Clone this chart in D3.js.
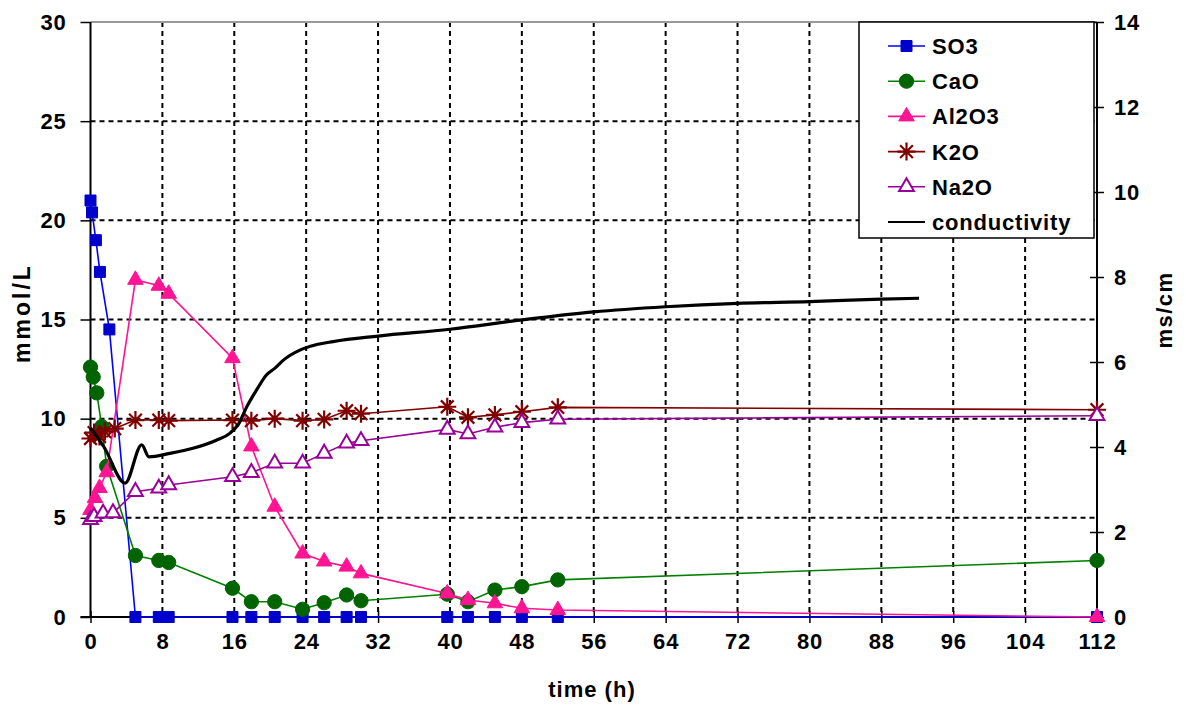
<!DOCTYPE html>
<html><head><meta charset="utf-8">
<script src="https://cdn.jsdelivr.net/npm/d3@7"></script>
<style>
html,body{margin:0;padding:0;background:#fff;}
svg{display:block;font-family:"Liberation Sans",Arial,sans-serif;}
</style></head>
<body><svg id="c" width="1186" height="709"></svg>
<script>
// ---- data ----
const xTicks = [0,8,16,24,32,40,48,56,64,72,80,88,96,104,112];
const yLeftTicks = [0,5,10,15,20,25,30];
const yRightTicks = [0,2,4,6,8,10,12,14];
const seriesNames = ["SO3","CaO","Al2O3","K2O","Na2O","conductivity"];

const tLate = [5,7.6,8.7,15.8,17.9,20.5,23.6,26,28.5,30.1,39.7,42,45,48,52,112];

const so3T = [0,0.17,0.6,1.05,2.1].concat(tLate);
const so3V = [21.0,20.4,19.0,17.4,14.5, 0,0,0,0,0,0,0,0,0,0,0,0,0,0,0,0];

const caoT = [0,0.3,0.7,1.25,1.8].concat(tLate);
const caoV = [12.6,12.1,11.3,9.6,7.6, 3.1,2.85,2.75,1.45,0.77,0.77,0.39,0.72,1.11,0.82,1.15,0.77,1.36,1.53,1.87,2.85];

const al2o3T = [0,0.5,1,1.8].concat(tLate);
const al2o3V = [5.4,6.0,6.5,7.3, 17.0,16.7,16.3,13.05,8.6,5.56,3.2,2.8,2.54,2.2,1.19,0.86,0.69,0.44,0.35,0.0];

const k2oT = [0,0.4,1,1.6,2.7].concat(tLate);
const k2oV = [9.0,9.3,9.1,9.35,9.5, 9.93,9.93,9.9,9.93,9.9,10.0,9.9,9.96,10.4,10.25,10.6,10.07,10.19,10.35,10.57,10.45];

const na2oT = [0,0.4,1.4,2.5].concat(tLate);
const na2oV = [4.9,5.05,5.23,5.25, 6.32,6.49,6.66,7.07,7.28,7.75,7.75,8.25,8.76,8.89,9.46,9.23,9.57,9.8,9.97,10.15];

const condT = [0,1.5,3.85,5.7,6.5,8.8,11.4,14,15.5,16.5,17.4,18.5,19.6,20.5,21.5,23.3,25,27,32,40,48,56,64,72,80,88,92.2];
const condV = [4.45,4.0,3.15,4.05,3.77,3.85,3.97,4.16,4.32,4.55,4.95,5.35,5.7,5.85,6.05,6.28,6.4,6.48,6.61,6.77,6.99,7.18,7.3,7.38,7.42,7.48,7.5];

// ---- layout ----
const L=90.5,R=1097,T=22,B=617;
const svg=d3.select("#c");
const x=d3.scaleLinear().domain([0,112]).range([L,R]);
const yL=d3.scaleLinear().domain([0,30]).range([B,T]);
const yR=d3.scaleLinear().domain([0,14]).range([B,T]);
const FONT='"Liberation Sans",Arial,sans-serif';

// gridlines
const g=svg.append("g");
g.selectAll(".hg").data(yLeftTicks.filter(d=>d>0&&d<30)).enter().append("line")
 .attr("x1",L).attr("x2",R).attr("y1",d=>yL(d)).attr("y2",d=>yL(d))
 .attr("stroke","#000").attr("stroke-width",2).attr("stroke-dasharray","5,4");
g.selectAll(".vg").data(xTicks.filter(d=>d>0&&d<112)).enter().append("line")
 .attr("x1",d=>x(d)).attr("x2",d=>x(d)).attr("y1",T).attr("y2",B)
 .attr("stroke","#000").attr("stroke-width",2).attr("stroke-dasharray","5,4");
svg.append("line").attr("x1",L).attr("x2",R).attr("y1",T).attr("y2",T).attr("stroke","#999").attr("stroke-width",2);

// axes
const axL=svg.append("g").attr("transform",`translate(${L},0)`)
 .call(d3.axisLeft(yL).tickValues(yLeftTicks).tickSize(10).tickPadding(14));
const axR=svg.append("g").attr("transform",`translate(${R},0)`)
 .call(d3.axisRight(yR).tickValues(yRightTicks).tickSize(7).tickPadding(10));
axR.selectAll(".tick line").attr("x1",-7);
const axB=svg.append("g").attr("transform",`translate(0,${B})`)
 .call(d3.axisBottom(x).tickValues(xTicks).tickSize(6).tickPadding(10));
axB.selectAll(".tick line").attr("y1",-6);
[axL,axR,axB].forEach(a=>{
  a.select(".domain").attr("stroke","#000").attr("stroke-width",2);
  a.selectAll(".tick line").attr("stroke","#000").attr("stroke-width",1.5);
  a.selectAll("text").attr("font-family",FONT).attr("font-size",22).attr("font-weight","bold")
   .attr("letter-spacing","0.8px").attr("fill","#000");
});
axL.select(".domain").attr("d",`M0,${B}V${T}`);
axR.select(".domain").attr("d",`M0,${B}V${T}`);
axB.select(".domain").attr("d",`M${L-10},0H${R}`);

// axis titles
svg.append("text").attr("x",592).attr("y",697).attr("text-anchor","middle").attr("letter-spacing","1px")
 .attr("font-family",FONT).attr("font-size",22).attr("font-weight","bold").text("time (h)");
svg.append("text").attr("transform","translate(30,313) rotate(-90)").attr("text-anchor","middle").attr("letter-spacing","3px")
 .attr("font-family",FONT).attr("font-size",23).attr("font-weight","bold").text("mmol/L");
svg.append("text").attr("transform","translate(1172,310) rotate(-90)").attr("text-anchor","middle").attr("letter-spacing","1.5px")
 .attr("font-family",FONT).attr("font-size",22).attr("font-weight","bold").text("ms/cm");

// marker helpers
function starPath(r){
  const p=[];
  for(let k=0;k<4;k++){const a=k*Math.PI/4;const dx=r*Math.cos(a),dy=r*Math.sin(a);
    p.push(`M${-dx},${-dy}L${dx},${dy}`);}
  return p.join("");
}
const markers={
  square:{d:d3.symbol(d3.symbolSquare,121)(),fill:"#0000cc",stroke:"#0000cc",sw:1},
  circle:{d:d3.symbol(d3.symbolCircle,160)(),fill:"#006400",stroke:"#006400",sw:1},
  tri:{d:d3.symbol(d3.symbolTriangle,105)(),fill:"#ff1493",stroke:"#ff1493",sw:1},
  star:{d:starPath(9),fill:"none",stroke:"#800000",sw:2.2},
  otri:{d:d3.symbol(d3.symbolTriangle,95)(),fill:"#fff",stroke:"#990099",sw:2}
};
const series=[
  {name:seriesNames[0],t:so3T,v:so3V,color:"#0000ff",m:"square",y:yL},
  {name:seriesNames[1],t:caoT,v:caoV,color:"#008000",m:"circle",y:yL},
  {name:seriesNames[2],t:al2o3T,v:al2o3V,color:"#ff1493",m:"tri",y:yL},
  {name:seriesNames[3],t:k2oT,v:k2oV,color:"#800000",m:"star",y:yL},
  {name:seriesNames[4],t:na2oT,v:na2oV,color:"#990099",m:"otri",y:yL}
];
series.forEach(s=>{
  const pts=s.t.map((t,i)=>[t,s.v[i]]);
  const line=d3.line().x(d=>x(d[0])).y(d=>s.y(d[1]));
  svg.append("path").attr("d",line(pts)).attr("fill","none").attr("stroke",s.color).attr("stroke-width",1.6);
  const mk=markers[s.m];
  svg.append("g").selectAll("path").data(pts).enter().append("path")
   .attr("transform",d=>`translate(${x(d[0])},${s.y(d[1])})`)
   .attr("d",mk.d).attr("fill",mk.fill).attr("stroke",mk.stroke).attr("stroke-width",mk.sw);
});
// conductivity
const cpts=condT.map((t,i)=>[t,condV[i]]);
svg.append("path").attr("d",d3.line().x(d=>x(d[0])).y(d=>yR(d[1])).curve(d3.curveMonotoneX)(cpts))
 .attr("fill","none").attr("stroke","#000").attr("stroke-width",3.2);

// legend
const lg=svg.append("g");
lg.append("rect").attr("x",859).attr("y",T).attr("width",235).attr("height",216)
 .attr("fill","#fff").attr("stroke","#000").attr("stroke-width",1.5);
const legItems=series.map(s=>({name:s.name,color:s.color,m:s.m})).concat([{name:seriesNames[5],color:"#000",m:null}]);
legItems.forEach((it,i)=>{
  const yy=46+i*35.2;
  lg.append("line").attr("x1",888).attr("x2",925).attr("y1",yy).attr("y2",yy)
   .attr("stroke",it.color).attr("stroke-width",it.m?1.6:2);
  if(it.m){const mk=markers[it.m];
    lg.append("path").attr("transform",`translate(906.5,${yy})`).attr("d",mk.d)
     .attr("fill",mk.fill).attr("stroke",mk.stroke).attr("stroke-width",mk.sw);}
  lg.append("text").attr("x",932).attr("y",yy).attr("dy","0.36em").attr("letter-spacing","0.8px")
   .attr("font-family",FONT).attr("font-size",22).attr("font-weight","bold").text(it.name);
});
</script></body></html>
